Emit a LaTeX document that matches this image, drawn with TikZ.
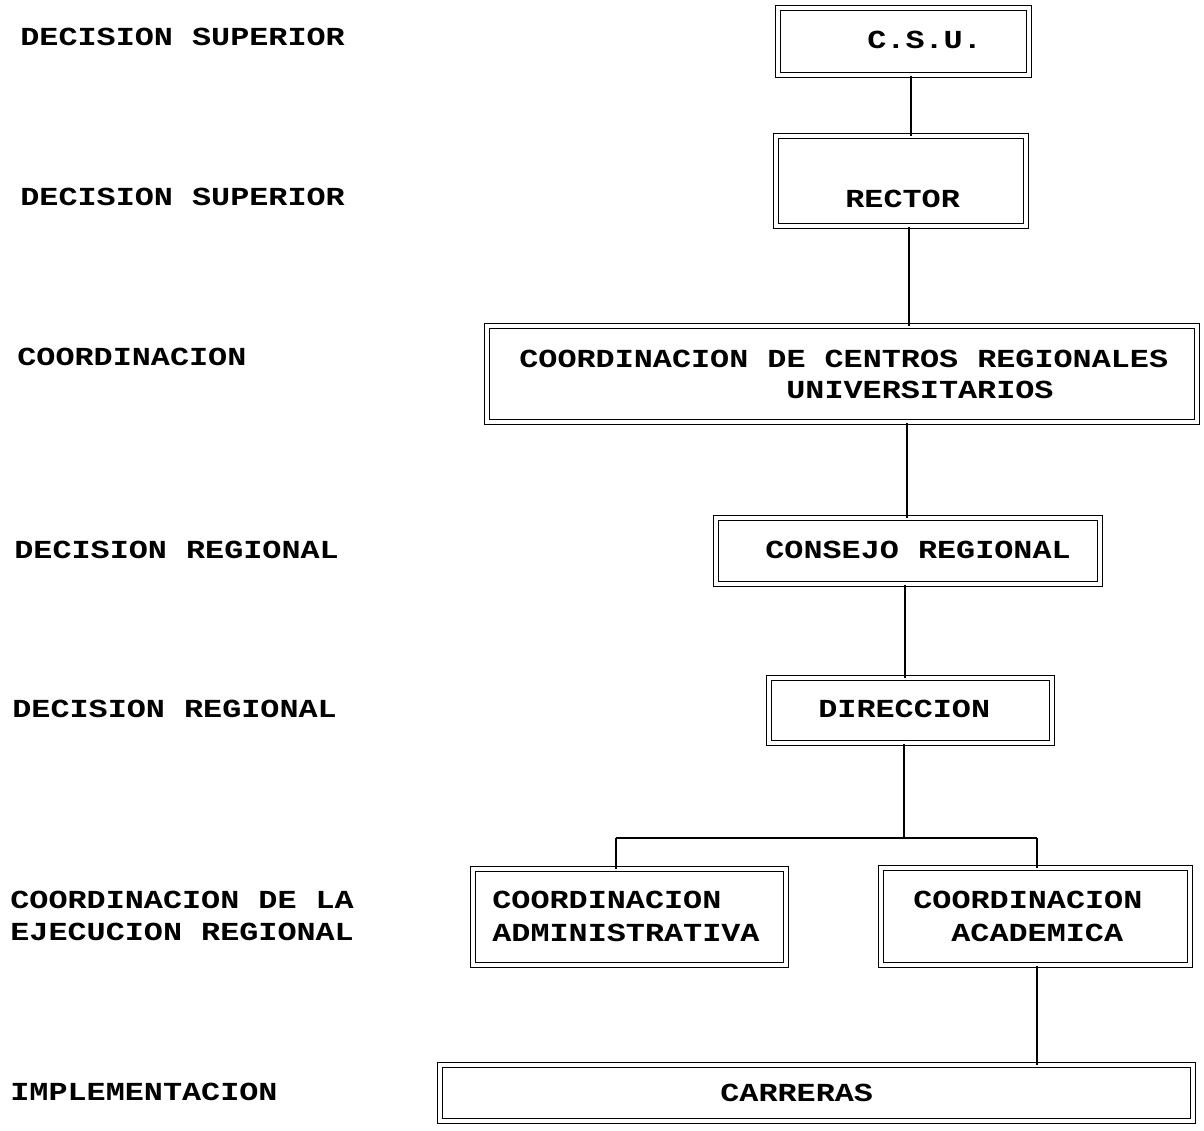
\documentclass[tikz,border=0pt]{standalone}
\usepackage{fontspec}
\setmainfont{Liberation Mono}[FakeStretch=1.223]
\begin{document}
\begin{tikzpicture}[x=0.5pt,y=-0.5pt,
  box/.style={draw=black, line width=0.5pt, double=white, double distance=2.3pt, inner sep=0pt, rectangle},
  lbl/.style={anchor=base west, inner sep=0pt, font=\fontsize{13}{15}\selectfont\bfseries},
  conn/.style={draw=black, line width=0.6pt}]
\useasboundingbox (0,0) rectangle (1204,1130);
\fill[white] (0,0) rectangle (1204,1130);
% left level labels
\node[lbl] (t1) at (20,45) {DECISION SUPERIOR};
\node[lbl] (t2) at (20,205) {DECISION SUPERIOR};
\node[lbl] (t3) at (17,365) {COORDINACION};
\node[lbl] (t4) at (14,558) {DECISION REGIONAL};
\node[lbl] (t5) at (12,717) {DECISION REGIONAL};
\node[lbl] (t6a) at (10,908) {COORDINACION DE LA};
\node[lbl] (t6b) at (10,940) {EJECUCION REGIONAL};
\node[lbl] (t7) at (10,1100) {IMPLEMENTACION};
% boxes
\node[box, minimum width=125.5pt, minimum height=33.5pt] (csu) at (903.5,41.5) {};
\node[box, minimum width=125pt, minimum height=45pt] (rector) at (901,181) {};
\node[box, minimum width=355pt, minimum height=48pt] (centros) at (842,374) {};
\node[box, minimum width=192pt, minimum height=33pt] (consejo) at (908,551) {};
\node[box, minimum width=141.5pt, minimum height=32.5pt] (direccion) at (910.5,710.5) {};
\node[box, minimum width=156.5pt, minimum height=48pt] (admin) at (629.5,917) {};
\node[box, minimum width=154.5pt, minimum height=48.5pt] (acad) at (1035.5,916.5) {};
\node[box, minimum width=376.5pt, minimum height=28pt] (carreras) at (816.5,1093) {};
% box texts
\node[lbl] (csut) at (867,48) {C.S.U.};
\node[lbl] (rectort) at (845,207) {RECTOR};
\node[lbl] (centrost1) at (519,367) {COORDINACION DE CENTROS REGIONALES};
\node[lbl] (centrost2) at (786,398) {UNIVERSITARIOS};
\node[lbl] (consejot) at (765,558) {CONSEJO REGIONAL};
\node[lbl] (direcciont) at (818,717) {DIRECCION};
\node[lbl] (admint1) at (492,908) {COORDINACION};
\node[lbl] (admint2) at (492,941) {ADMINISTRATIVA};
\node[lbl] (acadt1) at (913,908) {COORDINACION};
\node[lbl] (acadt2) at (951,941) {ACADEMICA};
\node[lbl] (carrerast) at (720,1101) {CARRERAS};
% connector x positions
\coordinate (x1) at (911,0);
\coordinate (x2) at (909,0);
\coordinate (x3) at (907,0);
\coordinate (x4) at (905,0);
\coordinate (xd) at (904,0);
\coordinate (br) at (904,838);
\coordinate (bl) at (616,838);
\coordinate (brr) at (1037,838);
\draw[conn] (csu.south -| x1) -- (rector.north -| x1);
\draw[conn] (rector.south -| x2) -- (centros.north -| x2);
\draw[conn] (centros.south -| x3) -- (consejo.north -| x3);
\draw[conn] (consejo.south -| x4) -- (direccion.north -| x4);
\draw[conn] (direccion.south -| xd) -- (br);
\draw[conn] (bl) -- (brr);
\draw[conn] (bl) -- (admin.north -| bl);
\draw[conn] (brr) -- (acad.north -| brr);
\draw[conn] (acad.south -| brr) -- (carreras.north -| brr);
\end{tikzpicture}
\end{document}
